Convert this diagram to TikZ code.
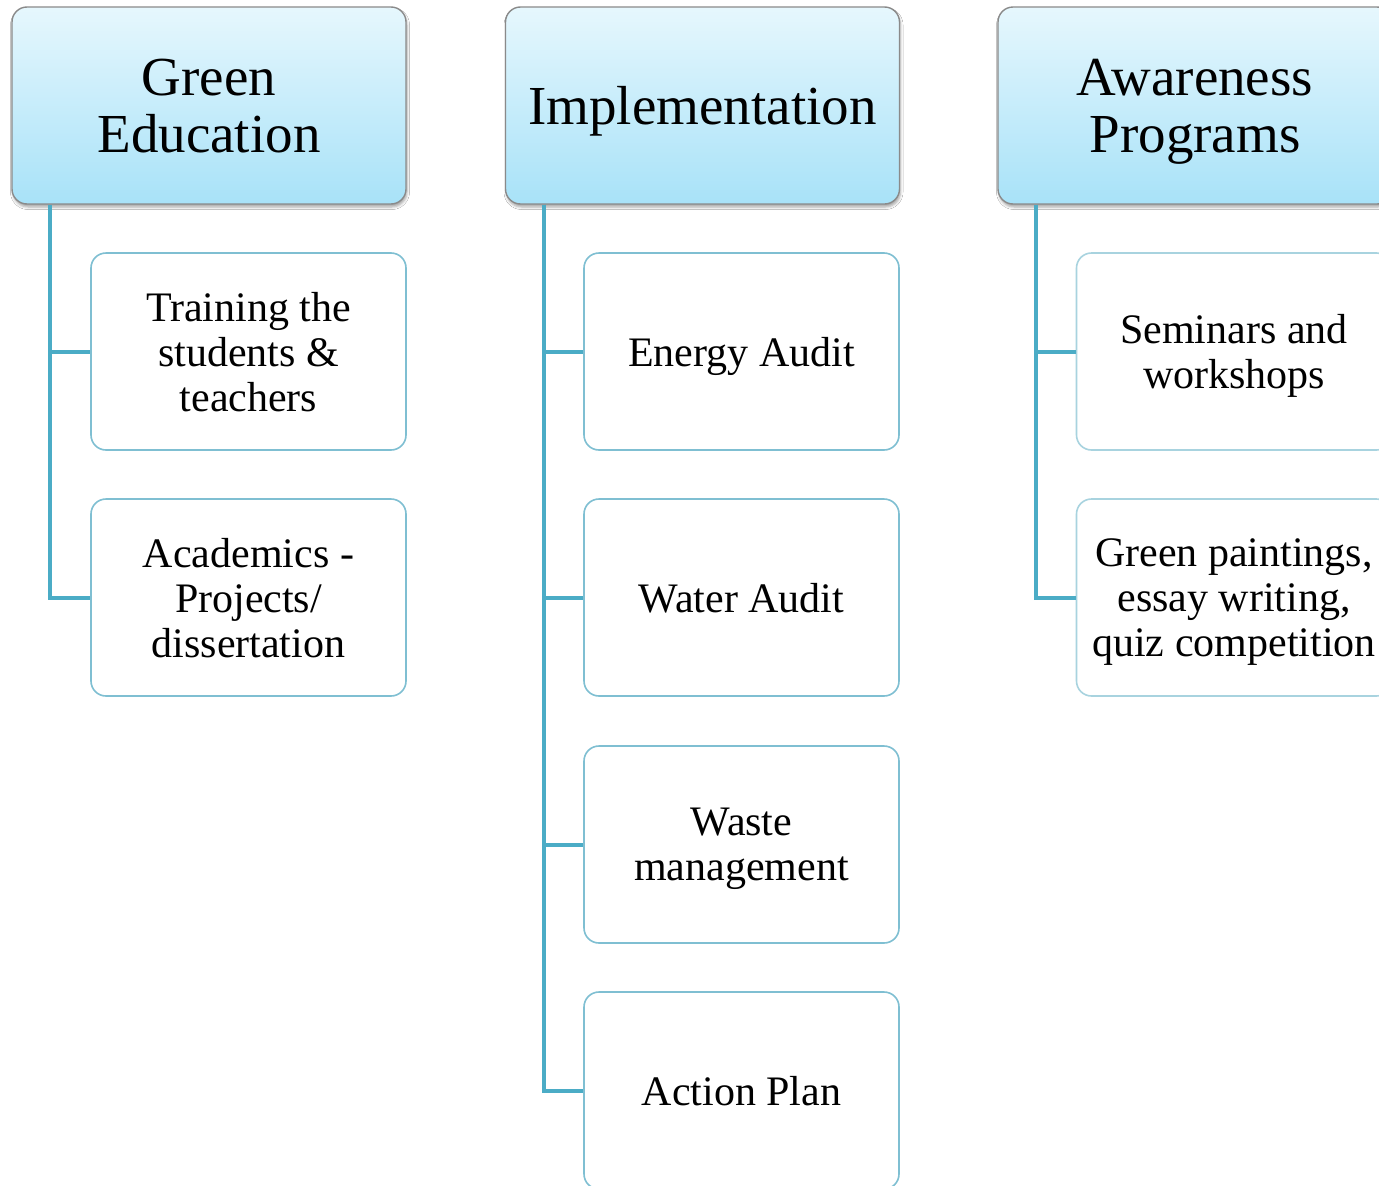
\documentclass[tikz,border=0pt]{standalone}
\usepackage{fontspec}
\setmainfont{Liberation Serif}
\usetikzlibrary{shadows.blur}
\definecolor{conncol}{HTML}{4BACC6}
\definecolor{childcol}{HTML}{7FBFD2}
\definecolor{childcolb}{HTML}{A8D3DF}
\definecolor{headtop}{HTML}{E6F7FD}
\definecolor{headbot}{HTML}{A8E2F8}
\definecolor{headline}{HTML}{8A8A8A}
\tikzset{
  headbox/.style={draw=headline, line width=1.4pt, rounded corners=15pt,
    top color=headtop, bottom color=headbot,
    minimum width=394pt, minimum height=197pt, inner sep=0pt, align=center,
    text depth=0pt,
    font=\fontsize{55}{57}\selectfont,
    blur shadow={shadow xshift=1pt, shadow yshift=-3pt, shadow blur radius=2.5pt, shadow opacity=35}},
  childbox/.style={draw=childcol, line width=1.6pt, rounded corners=15pt, fill=white,
    minimum width=315pt, minimum height=197pt, inner sep=0pt, align=center,
    text depth=0pt,
    font=\fontsize{42}{45}\selectfont},
  conn/.style={draw=conncol, line width=4pt}
}
\begin{document}
\begin{tikzpicture}[x=1pt,y=-1pt]
\useasboundingbox (0,0) rectangle (1379,1186);
\fill[white] (0,0) rectangle (1379,1186);
% headers
\node[headbox] (ge) at (209,105.5) {Green\\Education};
\node[headbox] (im) at (702.5,105.5) {Implementation};
\node[headbox] (aw) at (1195,105.5) {Awareness\\Programs};
% connector start points
\coordinate (geb) at ([xshift=39pt]ge.south west);
\coordinate (imb) at ([xshift=39pt]im.south west);
\coordinate (awb) at ([xshift=39pt]aw.south west);
% children
\node[childbox] (t1) at (248.5,351.5) {Training the\\students \&\\teachers};
\node[childbox] (t2) at (248.5,597.5) {Academics -\\Projects/\\dissertation};
\node[childbox] (i1) at (741.5,351.5) {Energy Audit};
\node[childbox] (i2) at (741.5,597.5) {Water Audit};
\node[childbox] (i3) at (741.5,844.5) {Waste\\management};
\node[childbox] (i4) at (741.5,1090.5) {Action Plan};
\node[childbox, draw=childcolb] (a1) at (1234,351.5) {Seminars and\\workshops};
\node[childbox, draw=childcolb] (a2) at (1234,597.5) {Green paintings,\\essay writing,\\quiz competition};
\draw[conn] (geb) |- (t1.west);
\draw[conn] (geb) |- (t2.west);
\draw[conn] (imb) |- (i1.west);
\draw[conn] (imb) |- (i2.west);
\draw[conn] (imb) |- (i3.west);
\draw[conn] (imb) |- (i4.west);
\draw[conn] (awb) |- (a1.west);
\draw[conn] (awb) |- (a2.west);
\end{tikzpicture}
\end{document}
